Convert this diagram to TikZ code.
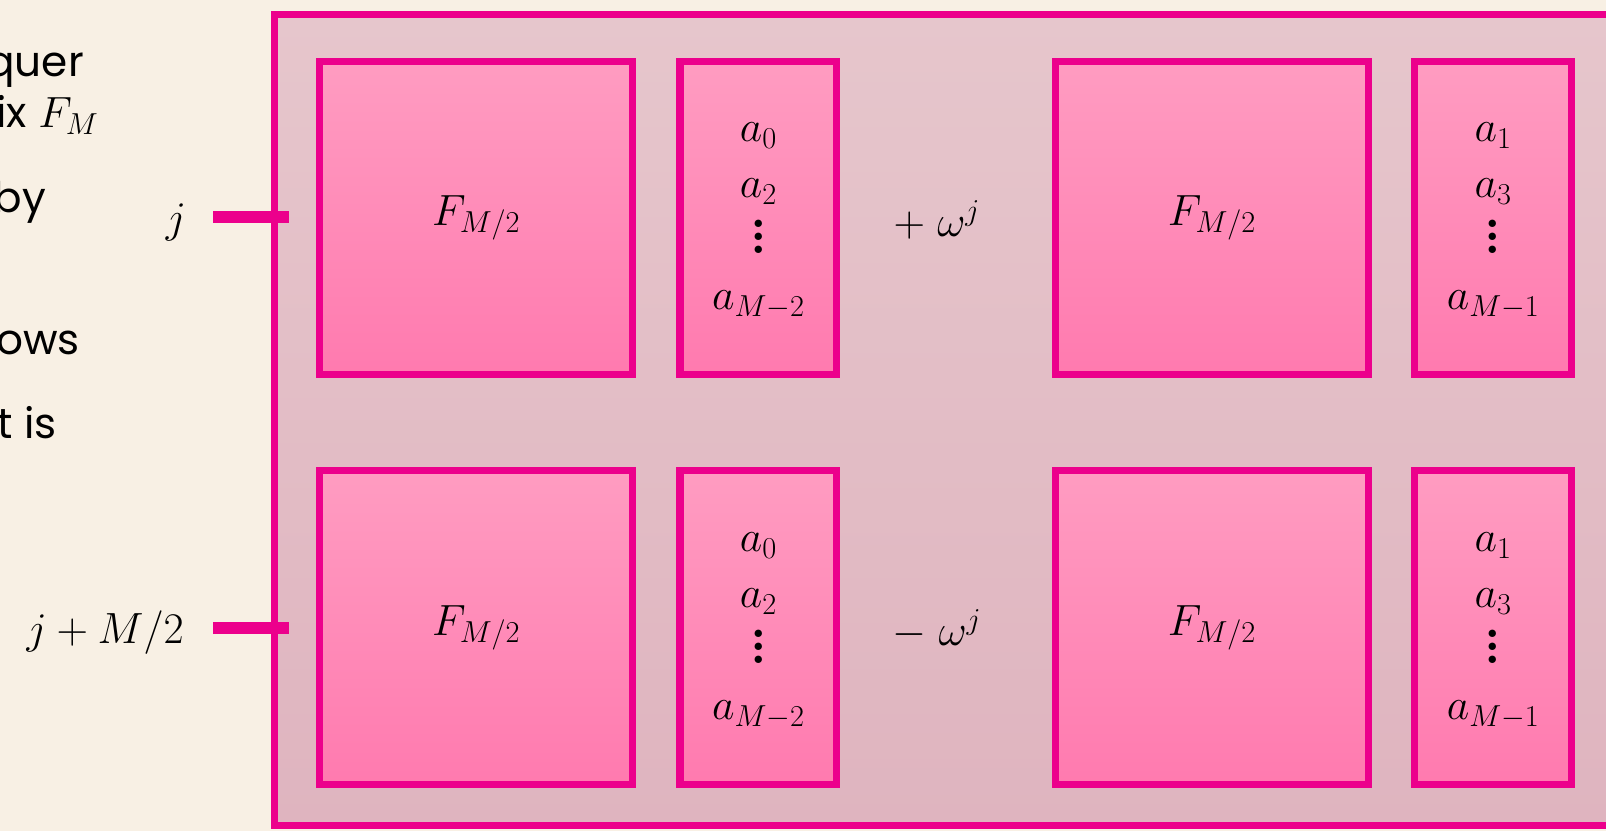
\documentclass[tikz,border=0pt]{standalone}
\usepackage{fontspec}
\usepackage{graphicx}
\setsansfont{Poppins}
\usetikzlibrary{positioning}
\definecolor{magentaline}{RGB}{236,0,140}
\definecolor{bgcream}{RGB}{248,240,228}
\definecolor{frametop}{RGB}{230,198,204}
\definecolor{framebot}{RGB}{223,180,191}
\definecolor{blocktop}{RGB}{255,156,193}
\definecolor{blockbot}{RGB}{255,122,175}
\newcommand{\bigvdots}{\smash{\scalebox{1.9}{$\vdots$}}}

\begin{document}
\begin{tikzpicture}[
    x=0.02cm, y=-0.02cm,
    mathtext/.style={font=\fontsize{27}{32}\selectfont},
    sidetext/.style={font=\sffamily\fontsize{24}{28}\selectfont, anchor=base east},
    framebox/.style={draw=magentaline, line width=4pt, top color=frametop, bottom color=framebot, minimum width=27.52cm, minimum height=16.24cm},
    fblock/.style={rectangle, draw=magentaline, line width=4pt, top color=blocktop, bottom color=blockbot, minimum width=6.27cm, minimum height=6.27cm, mathtext},
    vecbox/.style={fblock, minimum width=3.14cm},
    stack/.style={inner sep=0pt, align=center, font=\fontsize{27}{31.9}\selectfont},
    sign/.style={mathtext},
    rowline/.style={draw=magentaline, line width=6.3pt}
]
    \clip (0,0) rectangle (1606,831);
    \fill[bgcream] (0,0) rectangle (1606,831);

    % cut-off lines of the slide text
    \node[sidetext] (t1) at (90,77) {quer};
    \node[sidetext] (t2) at (105,128) {rix $F_M$};
    \node[sidetext] (t3) at (52,213) {by};
    \node[sidetext] (t4) at (86,354) {rows};
    \node[sidetext] (t5) at (63,438) {ct is};

    \node[framebox] (frame) at (962,420) {};

    % top row
    \node[fblock] (f1) at (476.25,217.75) {$F_{M/2}$};
    \node[vecbox, right=0.8cm of f1] (v1) {};
    \node[sign] (plus) at (937,220) {$+\;\omega^j$};
    \node[fblock] (f2) at (1212,217.75) {$F_{M/2}$};
    \node[vecbox, right=0.78cm of f2] (v2) {};

    % bottom row
    \node[fblock, below=1.79cm of f1] (f3) {$F_{M/2}$};
    \node[vecbox, below=1.79cm of v1] (v3) {};
    \node[sign] (minus) at (937,629) {$-\;\omega^j$};
    \node[fblock, below=1.79cm of f2] (f4) {$F_{M/2}$};
    \node[vecbox, below=1.79cm of v2] (v4) {};

    % entries of the even / odd halves
    \node[stack, below=1.3cm of v1.north] (s1) {$a_0$\\$a_2$\\\bigvdots\\$a_{M-2}$};
    \node[stack, below=1.3cm of v2.north] (s2) {$a_1$\\$a_3$\\\bigvdots\\$a_{M-1}$};
    \node[stack, below=1.3cm of v3.north] (s3) {$a_0$\\$a_2$\\\bigvdots\\$a_{M-2}$};
    \node[stack, below=1.3cm of v4.north] (s4) {$a_1$\\$a_3$\\\bigvdots\\$a_{M-1}$};

    % row indices
    \node[mathtext, anchor=base] (jlab) at (176,233) {$j$};
    \node[mathtext, anchor=base east] (jmlab) at (190,643) {$j+M/2$};
    \coordinate (ja) at (213,217);
    \coordinate (jb) at (289,217);
    \coordinate (jma) at (213,628);
    \coordinate (jmb) at (289,628);
    \draw[rowline] (ja) -- (jb);
    \draw[rowline] (jma) -- (jmb);
\end{tikzpicture}
\end{document}
